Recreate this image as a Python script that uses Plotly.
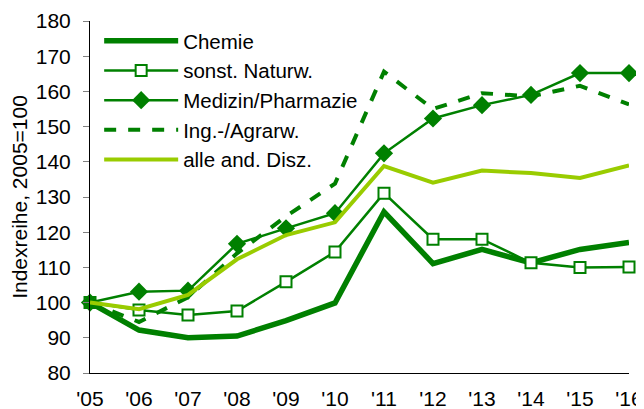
import plotly.graph_objects as go

years = ["'05", "'06", "'07", "'08", "'09", "'10", "'11", "'12", "'13", "'14", "'15", "'16"]
chemie = [100, 92.2, 90.0, 90.5, 94.9, 99.9, 125.8, 111.1, 115.1, 111.3, 115.1, 117.1]
naturw = [100, 97.9, 96.5, 97.6, 105.9, 114.4, 131.1, 118.0, 118.0, 111.3, 110.0, 110.1]
medizin = [100, 103.1, 103.4, 116.7, 121.1, 125.4, 142.4, 152.3, 156.1, 159.0, 165.2, 165.2]
ingagrar = [100, 94.5, 101.5, 114.0, 124.5, 133.8, 165.6, 155.0, 159.5, 158.6, 161.6, 156.3]
alle = [100, 98.1, 102.2, 112.3, 119.2, 122.8, 138.8, 134.1, 137.5, 136.8, 135.4, 139.0]

DARK = "#008000"
LIGHT = "#99CC00"
xs = list(range(len(years)))

fig = go.Figure()
fig.add_trace(go.Scatter(x=xs, y=chemie, name="Chemie", mode="lines",
                         line=dict(color=DARK, width=5.5), cliponaxis=False))
fig.add_trace(go.Scatter(x=xs, y=naturw, name="sonst. Naturw.", mode="lines+markers",
                         line=dict(color=DARK, width=2.5),
                         marker=dict(symbol="square", size=11, color="white",
                                     line=dict(color=DARK, width=2)), cliponaxis=False))
fig.add_trace(go.Scatter(x=xs, y=medizin, name="Medizin/Pharmazie", mode="lines+markers",
                         line=dict(color=DARK, width=2.5),
                         marker=dict(symbol="diamond", size=14, color=DARK), cliponaxis=False))
fig.add_trace(go.Scatter(x=xs, y=ingagrar, name="Ing.-/Agrarw.", mode="lines",
                         line=dict(color=DARK, width=4, dash="dash"), cliponaxis=False))
fig.add_trace(go.Scatter(x=xs, y=alle, name="alle and. Disz.", mode="lines",
                         line=dict(color=LIGHT, width=4), cliponaxis=False))

# the page body keeps an 8px default margin, so the figure is 8px smaller
fig.update_layout(
    width=636, height=401,
    margin=dict(l=82, r=15, t=13, b=36, autoexpand=False),
    paper_bgcolor="white", plot_bgcolor="white",
    font=dict(family="Liberation Sans, Arial, sans-serif", size=21, color="#000000"),
    showlegend=True,
    legend=dict(x=0.017, y=1.0, xanchor="left", yanchor="top",
                bgcolor="rgba(0,0,0,0)", itemwidth=74,
                font=dict(size=20.5), tracegroupgap=0),
    xaxis=dict(range=[0, 11], tickmode="array", tickvals=xs, ticktext=years,
               showgrid=False, zeroline=False, showline=True, linecolor="#000000",
               linewidth=1, ticks="", ticklabelstandoff=7,
               tickfont=dict(size=21), automargin=False),
    yaxis=dict(range=[80, 180], dtick=10, showgrid=False, zeroline=False,
               showline=True, linecolor="#000000", linewidth=1,
               ticks="outside", ticklen=6, tickcolor="#808080",
               ticklabelstandoff=8, automargin=False,
               tickfont=dict(size=21),
               title=dict(text="Indexreihe, 2005=100", font=dict(size=21), standoff=4)),
)

fig.write_html("out.html")
